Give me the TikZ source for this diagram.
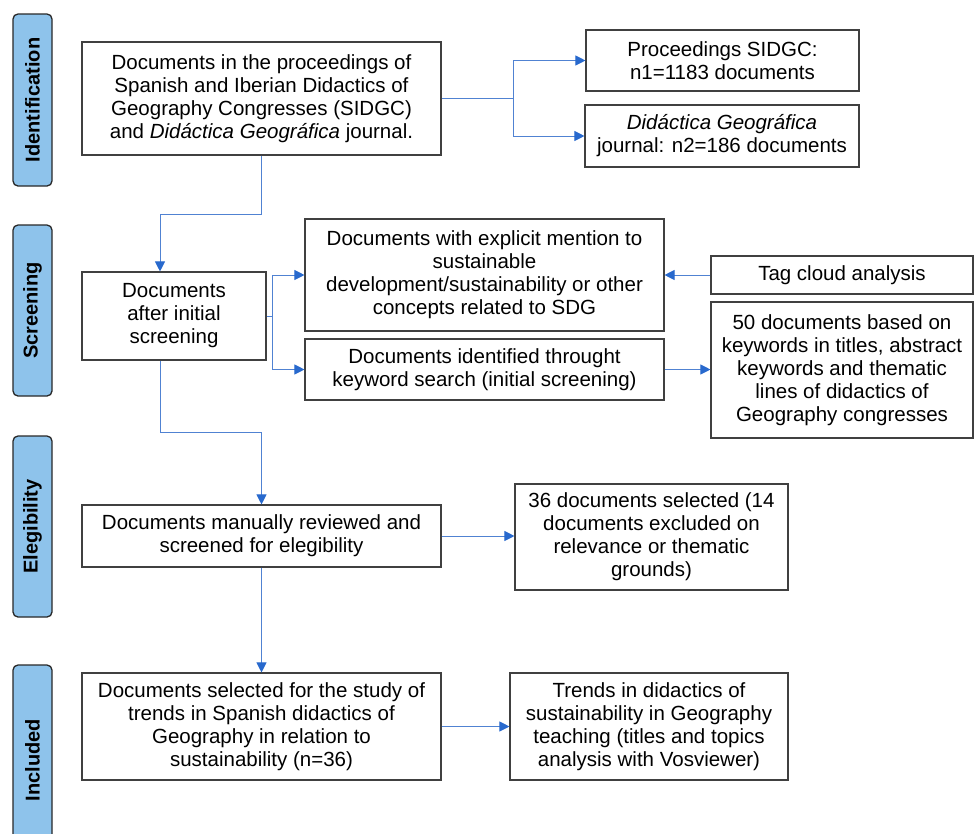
\documentclass[tikz,border=0pt]{standalone}
\usepackage{fontspec}
\setmainfont{Liberation Sans}
\usetikzlibrary{arrows.meta}
\definecolor{phasefill}{RGB}{142,195,235}
\definecolor{phaseline}{RGB}{40,40,40}
\definecolor{boxline}{RGB}{64,64,64}
\definecolor{arrowblue}{RGB}{80,130,210}
\definecolor{tipblue}{RGB}{40,105,205}
\begin{document}
\begin{tikzpicture}[x=1pt,y=-1pt,
  box/.style={draw=boxline, line width=1.1pt, fill=white, inner sep=0pt, align=center,
    font=\fontsize{20.5}{23}\selectfont},
  phase/.style={draw=phaseline, line width=1.3pt, fill=phasefill, rounded corners=5pt,
    inner sep=0pt, minimum height=39pt, rotate=90,
    font=\fontsize{20}{24}\selectfont\bfseries},
  conn/.style={draw=arrowblue, line width=1pt},
  arr/.style={conn, -{Triangle[length=10pt,width=10pt,color=tipblue]}}
]
\useasboundingbox (0,0) rectangle (974,833);
\begin{scope}
\clip (0,0) rectangle (974,833);
% phase labels
\node[phase, minimum width=172pt] (ph1) at (32.5,100) {Identification};
\node[phase, minimum width=171pt] (ph2) at (32.5,310.5) {Screening};
\node[phase, minimum width=181pt] (ph3) at (32.5,526.5) {Elegibility};
\node[phase, minimum width=190pt] (ph4) at (32.5,760) {Included};
\end{scope}

% boxes
\node[box, minimum width=359pt, minimum height=113pt] (p) at (261.5,98.5)
 {Documents in the proceedings of\\Spanish and Iberian Didactics of\\Geography Congresses (SIDGC)\\and \textit{Didáctica Geográfica} journal.};
\node[box, minimum width=273pt, minimum height=61pt] (s1) at (722.5,60.5)
 {Proceedings SIDGC:\\n1=1183 documents};
\node[box, minimum width=274pt, minimum height=62pt] (s2) at (722,136)
 {\textit{Didáctica Geográfica}\\journal: n2=186 documents};
\node[box, minimum width=184pt, minimum height=88pt] (scr) at (174,316)
 {Documents\\after initial\\screening};
\node[box, minimum width=359pt, minimum height=112pt] (exp) at (484.5,275)
 {Documents with explicit mention to\\sustainable\\development/sustainability or other\\concepts related to SDG};
\node[box, minimum width=262pt, minimum height=38pt] (tag) at (842,275)
 {Tag cloud analysis};
\node[box, minimum width=359pt, minimum height=61pt] (kw) at (484.5,369.5)
 {Documents identified throught\\keyword search (initial screening)};
\node[box, minimum width=262pt, minimum height=136pt] (fifty) at (842,370)
 {50 documents based on\\keywords in titles, abstract\\keywords and thematic\\lines of didactics of\\Geography congresses};
\node[box, minimum width=359pt, minimum height=62pt] (man) at (261.5,536)
 {Documents manually reviewed and\\screened for elegibility};
\node[box, minimum width=273pt, minimum height=106pt] (t36) at (651.5,537)
 {36 documents selected (14\\documents excluded on\\relevance or thematic\\grounds)};
\node[box, minimum width=359pt, minimum height=107pt] (study) at (261.5,726.5)
 {Documents selected for the study of\\trends in Spanish didactics of\\Geography in relation to\\sustainability (n=36)};
\node[box, minimum width=278pt, minimum height=107pt] (trends) at (649,726.5)
 {Trends in didactics of\\sustainability in Geography\\teaching (titles and topics\\analysis with Vosviewer)};

% connectors
\coordinate (j1) at (513,98.5);
\draw[conn] (p.east) -- (j1);
\draw[arr] (j1) |- (s1.west);
\draw[arr] (j1) |- (s2.west);

\coordinate (c1) at (160,214);
\draw[arr] (p.south) |- (c1) -- (c1 |- scr.north);

\coordinate (j2) at (272,316);
\draw[conn] (scr.east) -- (j2);
\draw[arr] (j2) |- (exp.west);
\draw[arr] (j2) |- (kw.west);

\draw[arr] (tag.west) -- (exp.east |- tag.west);
\draw[arr] (kw.east) -- (fifty.west |- kw.east);

\coordinate (c2) at (160,432);
\draw[arr] (c2 |- scr.south) -- (c2) -| (man.north);

\draw[arr] (man.east) -- (t36.west |- man.east);
\draw[arr] (man.south) -- (study.north);
\draw[arr] (study.east) -- (trends.west |- study.east);
\end{tikzpicture}
\end{document}
